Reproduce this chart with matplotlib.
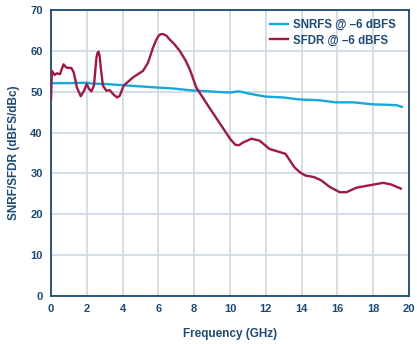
import matplotlib.pyplot as plt
import numpy as np

# SNRFS and SFDR vs input frequency, both at -6 dBFS input
snr_freq = [0.0, 1.0, 2.0, 2.3, 3.0, 4.0, 5.0, 6.0, 6.8, 7.9, 8.8, 9.5, 10.0, 10.5,
            11.1, 12.0, 12.96, 13.9, 15.0, 15.9, 16.9, 18.0, 18.8, 19.3, 19.6]
snr_db = [52.1, 52.1, 52.2, 52.0, 51.9, 51.6, 51.3, 51.0, 50.8, 50.3, 50.1, 49.9, 49.8, 50.1,
          49.5, 48.8, 48.6, 48.1, 47.9, 47.4, 47.4, 46.9, 46.8, 46.7, 46.3]

sfdr_freq = [0.0, 0.05, 0.2, 0.33, 0.5, 0.7, 0.86, 1.14, 1.27, 1.45, 1.66, 1.83, 2.0,
             2.12, 2.26, 2.4, 2.54, 2.6, 2.66, 2.72, 2.78, 2.9, 3.1, 3.28, 3.47, 3.69,
             3.84, 4.06, 4.58, 5.14, 5.42, 5.7, 5.88, 6.03, 6.15, 6.26, 6.45, 6.63,
             6.9, 7.19, 7.5, 7.75, 8.12, 8.83, 9.5, 10.0, 10.3, 10.5, 10.7, 11.2,
             11.66, 12.2, 12.8, 13.1, 13.6, 13.9, 14.2, 14.7, 15.1, 15.57, 16.13, 16.5,
             17.06, 17.8, 18.55, 19.0, 19.54]
sfdr_db = [48.0, 55.1, 54.1, 54.5, 54.3, 56.7, 55.9, 55.8, 54.7, 51.0, 48.9, 50.1, 51.9,
           50.7, 50.1, 51.5, 58.4, 59.5, 59.8, 58.6, 55.9, 51.5, 50.2, 50.4, 49.4, 48.6,
           49.0, 51.5, 53.5, 55.1, 57.1, 60.8, 62.7, 63.8, 64.1, 64.1, 63.7, 62.8,
           61.6, 60.0, 57.8, 55.5, 51.0, 46.2, 41.8, 38.5, 37.0, 36.9, 37.5, 38.5,
           38.0, 36.0, 35.2, 34.8, 31.5, 30.3, 29.5, 29.1, 28.3, 26.7, 25.4, 25.4,
           26.5, 27.1, 27.7, 27.3, 26.3]

x_ticks = np.arange(0, 21, 2)
y_ticks = np.arange(0, 71, 10)

navy = '#1d4a73'
grid_col = '#cdd7e2'
snr_col = '#16a8d8'
sfdr_col = '#9c1a45'

plt.rcParams['font.family'] = ['Liberation Sans', 'DejaVu Sans']
plt.rcParams['font.weight'] = 'bold'

fig = plt.figure(figsize=(4.17, 3.44), dpi=100)
ax = fig.add_axes([51 / 417, 1 - 296 / 344, 358 / 417, 286 / 344])

ax.plot(snr_freq, snr_db, color=snr_col, lw=1.7, label='SNRFS @ –6 dBFS',
        zorder=3, solid_joinstyle='round')
ax.plot(sfdr_freq, sfdr_db, color=sfdr_col, lw=1.7, label='SFDR @ –6 dBFS',
        zorder=3, solid_joinstyle='round')

ax.set_xlim(0, 20)
ax.set_ylim(0, 70)
ax.set_xticks(x_ticks)
ax.set_yticks(y_ticks)
ax.grid(True, color=grid_col, lw=1.2)
ax.set_axisbelow(True)
ax.tick_params(length=0, colors=navy, labelsize=8, pad=6)
for s in ax.spines.values():
    s.set_color(navy)
    s.set_linewidth(1.3)

ax.set_xlabel('Frequency (GHz)', color=navy, fontsize=8.5, fontweight='bold', labelpad=10)
ax.set_ylabel('SNRF/SFDR (dBFS/dBc)', color=navy, fontsize=8.5, fontweight='bold', labelpad=7)

leg = ax.legend(loc='upper right', bbox_to_anchor=(0.975, 0.984), frameon=False,
                fontsize=8.3, handlelength=1.55, borderaxespad=0, labelspacing=0.28,
                handletextpad=0.37)
for t in leg.get_texts():
    t.set_color(navy)

fig.savefig('out.png', dpi=100)
